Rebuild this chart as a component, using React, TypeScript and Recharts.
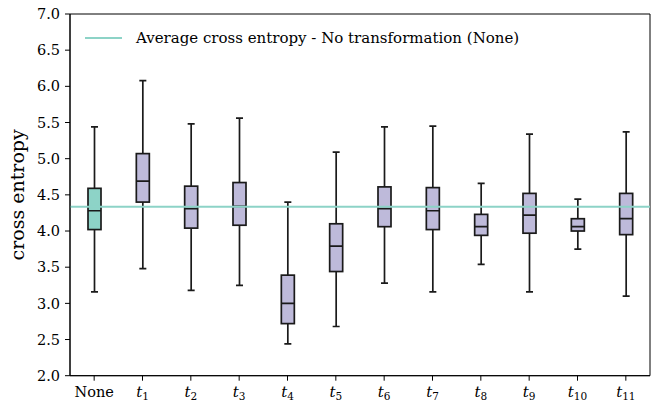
import React from 'react';
import {
  ComposedChart, Bar, XAxis, YAxis, ReferenceLine, ReferenceArea, Legend,
} from 'recharts';

const categories = ['None', 't1', 't2', 't3', 't4', 't5', 't6', 't7', 't8', 't9', 't10', 't11'];
const whiskerLow = [3.16, 3.48, 3.18, 3.25, 2.44, 2.68, 3.28, 3.16, 3.54, 3.16, 3.75, 3.10];
const q1 = [4.02, 4.40, 4.04, 4.08, 2.72, 3.44, 4.06, 4.02, 3.94, 3.97, 4.00, 3.95];
const median = [4.28, 4.69, 4.31, 4.34, 3.00, 3.79, 4.31, 4.28, 4.06, 4.22, 4.06, 4.17];
const q3 = [4.59, 5.07, 4.62, 4.67, 3.39, 4.10, 4.61, 4.60, 4.23, 4.52, 4.17, 4.52];
const whiskerHigh = [5.44, 6.08, 5.48, 5.56, 4.40, 5.09, 5.44, 5.45, 4.66, 5.34, 4.44, 5.37];
const averageNone = 4.335;
const yTicks = [2.0, 2.5, 3.0, 3.5, 4.0, 4.5, 5.0, 5.5, 6.0, 6.5, 7.0];
const legendLabel = 'Average cross entropy - No transformation (None)';

const TEAL = '#8dd3c7';
const LAVENDER = '#bebada';
const EDGE = '#1a1a1a';
const FONT = '"DejaVu Serif", serif';
const SW = 1.7;

const data = categories.map((name, i) => ({
  name,
  range: [whiskerLow[i], whiskerHigh[i]],
  low: whiskerLow[i],
  q1: q1[i],
  median: median[i],
  q3: q3[i],
  high: whiskerHigh[i],
}));

const BoxShape = (props: any) => {
  const { x, y, width, height, payload, index } = props;
  const { low, high } = payload;
  const per = height / (high - low);
  const pix = (v: number) => y + (high - v) * per;
  const cx = x + width / 2;
  const capHalf = width * 0.27;
  const fill = index === 0 ? TEAL : LAVENDER;
  return (
    <g>
      <line x1={cx} x2={cx} y1={pix(high)} y2={pix(payload.q3)} stroke={EDGE} strokeWidth={SW} />
      <line x1={cx} x2={cx} y1={pix(payload.q1)} y2={pix(low)} stroke={EDGE} strokeWidth={SW} />
      <line x1={cx - capHalf} x2={cx + capHalf} y1={pix(high)} y2={pix(high)} stroke={EDGE} strokeWidth={SW} />
      <line x1={cx - capHalf} x2={cx + capHalf} y1={pix(low)} y2={pix(low)} stroke={EDGE} strokeWidth={SW} />
      <rect x={x} y={pix(payload.q3)} width={width} height={pix(payload.q1) - pix(payload.q3)} fill={fill} stroke={EDGE} strokeWidth={SW} />
      <line x1={x} x2={x + width} y1={pix(payload.median)} y2={pix(payload.median)} stroke={EDGE} strokeWidth={SW} />
    </g>
  );
};

const XTick = (props: any) => {
  const { x, y, payload } = props;
  const v: string = payload.value;
  if (v === 'None') {
    return (
      <text x={x} y={y + 14} textAnchor="middle" fontFamily={FONT} fontSize={14.5} fill="#000">None</text>
    );
  }
  const sub = v.slice(1);
  return (
    <text x={x} y={y + 14} textAnchor="middle" fontFamily={FONT} fill="#000">
      <tspan fontSize={15} fontStyle="italic">t</tspan>
      <tspan fontSize={10.5} dy={3.5}>{sub}</tspan>
    </text>
  );
};

const LegendContent = () => (
  <div style={{ display: 'flex', alignItems: 'center', fontFamily: FONT, fontSize: 15, color: '#000', whiteSpace: 'nowrap' }}>
    <span style={{ display: 'inline-block', width: 37, height: 2, background: TEAL, marginRight: 14 }} />
    <span>{legendLabel}</span>
  </div>
);

export default function App() {
  return (
    <div style={{ position: 'absolute', left: 0, top: 0, width: 654, height: 402, background: '#fff', fontFamily: FONT }}>
      <ComposedChart
        width={654}
        height={402}
        data={data}
        margin={{ top: 14, right: 4, bottom: 0, left: 0 }}
        style={{ fontFamily: FONT }}
      >
        <XAxis
          dataKey="name"
          height={26.3}
          tick={<XTick />}
          tickSize={5}
          tickLine={{ stroke: '#000', strokeWidth: 1 }}
          axisLine={{ stroke: '#000', strokeWidth: 1 }}
          interval={0}
        />
        <YAxis
          domain={[2, 7]}
          ticks={yTicks}
          width={70}
          tickSize={5}
          tickMargin={5}
          tickFormatter={(v: number) => v.toFixed(1)}
          tick={{ fill: '#000', fontSize: 14.5, fontFamily: FONT }}
          tickLine={{ stroke: '#000', strokeWidth: 1 }}
          axisLine={{ stroke: '#000', strokeWidth: 1 }}
          allowDataOverflow
          label={{ value: 'cross entropy', angle: -90, position: 'center', dx: -18, fill: '#000', fontSize: 19, fontFamily: FONT }}
        />
        <ReferenceArea y1={2} y2={7} fill="none" stroke="#000" strokeWidth={1} ifOverflow="visible" />
        <Bar dataKey="range" barSize={13} shape={<BoxShape />} isAnimationActive={false} />
        <ReferenceLine y={averageNone} stroke={TEAL} strokeWidth={2} />
        <Legend
          verticalAlign="middle"
          align="center"
          layout="horizontal"
          content={<LegendContent />}
          wrapperStyle={{ top: 29, left: 85, width: 'auto', height: 'auto' }}
        />
      </ComposedChart>
    </div>
  );
}
